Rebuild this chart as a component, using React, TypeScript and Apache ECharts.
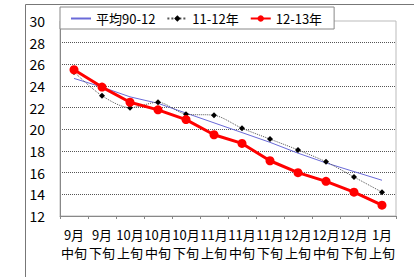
import React, { useEffect, useRef } from "react";
import * as echarts from "echarts";

const categories = [
  "9月\n中旬", "9月\n下旬", "10月\n上旬", "10月\n中旬", "10月\n下旬", "11月\n上旬",
  "11月\n中旬", "11月\n下旬", "12月\n上旬", "12月\n中旬", "12月\n下旬", "1月\n上旬",
];
const avg9012 = [24.7, 23.9, 23.0, 22.4, 21.5, 20.6, 19.7, 18.8, 17.8, 16.9, 16.1, 15.3];
const y1112 = [25.3, 23.1, 22.0, 22.5, 21.4, 21.3, 20.1, 19.1, 18.1, 17.0, 15.6, 14.2];
const y1213 = [25.5, 23.9, 22.5, 21.8, 20.9, 19.5, 18.7, 17.1, 16.0, 15.2, 14.2, 13.0];
const seriesNames = ["平均90-12", "11-12年", "12-13年"];

const FONT = "'Noto Sans CJK JP', 'Noto Sans', sans-serif";

export default function App() {
  const ref = useRef<HTMLDivElement>(null);
  useEffect(() => {
    if (!ref.current) return;
    const chart = echarts.init(ref.current, undefined, { renderer: "svg" });
    chart.setOption({
      animation: false,
      backgroundColor: "#ffffff",
      textStyle: { fontFamily: FONT, color: "#000" },
      graphic: [
        {
          type: "rect",
          shape: { x: 25.5, y: 4.5, width: 420, height: 300 },
          style: { fill: "none", stroke: "#777", lineWidth: 1 },
          z: -1,
        },
      ],
      legend: {
        left: 60,
        top: 7,
        padding: [5, 12, 4, 10],
        itemGap: 11,
        itemWidth: 20,
        itemHeight: 8,
        backgroundColor: "#fff",
        borderColor: "#888",
        borderWidth: 1,
        textStyle: { fontFamily: FONT, fontSize: 13, color: "#000" },
        data: [
          { name: seriesNames[0], itemStyle: { opacity: 0 } },
          { name: seriesNames[1] },
          { name: seriesNames[2] },
        ],
        z: 10,
      },
      grid: {
        left: 60,
        top: 21,
        right: 18,
        bottom: 61,
        show: true,
        borderColor: "#bbb",
        borderWidth: 1,
        backgroundColor: "transparent",
      },
      xAxis: {
        type: "category",
        data: categories,
        boundaryGap: true,
        axisLine: { lineStyle: { color: "#888" } },
        axisTick: { show: true, length: 3, lineStyle: { color: "#888" } },
        axisLabel: {
          interval: 0,
          fontSize: 13,
          lineHeight: 18,
          margin: 9,
          color: "#000",
          fontFamily: FONT,
        },
      },
      yAxis: {
        type: "value",
        min: 12,
        max: 30,
        interval: 2,
        axisLine: { show: true, lineStyle: { color: "#888" } },
        axisTick: { show: false },
        axisLabel: { fontSize: 14, margin: 15, color: "#000", fontFamily: FONT },
        splitLine: {
          show: true,
          showMinLine: false,
          showMaxLine: false,
          lineStyle: { type: "dotted", color: "#555", width: 1 },
        },
      },
      series: [
        {
          name: seriesNames[0],
          type: "line",
          data: avg9012,
          symbol: "none",
          lineStyle: { color: "#6a6ad8", width: 1 },
          itemStyle: { color: "#6a6ad8" },
          z: 2,
        },
        {
          name: seriesNames[1],
          type: "line",
          data: y1112,
          symbol: "diamond",
          symbolSize: 6,
          smooth: 0.3,
          lineStyle: { color: "#555", width: 1, type: "dotted" },
          itemStyle: { color: "#000" },
          z: 3,
        },
        {
          name: seriesNames[2],
          type: "line",
          data: y1213,
          symbol: "circle",
          symbolSize: 9,
          lineStyle: { color: "#ff0000", width: 3 },
          itemStyle: { color: "#ff0000" },
          z: 4,
        },
      ],
    });
    return () => chart.dispose();
  }, []);
  return (
    <div
      ref={ref}
      style={{ position: "fixed", left: 0, top: 0, width: 414, height: 277 }}
    />
  );
}
